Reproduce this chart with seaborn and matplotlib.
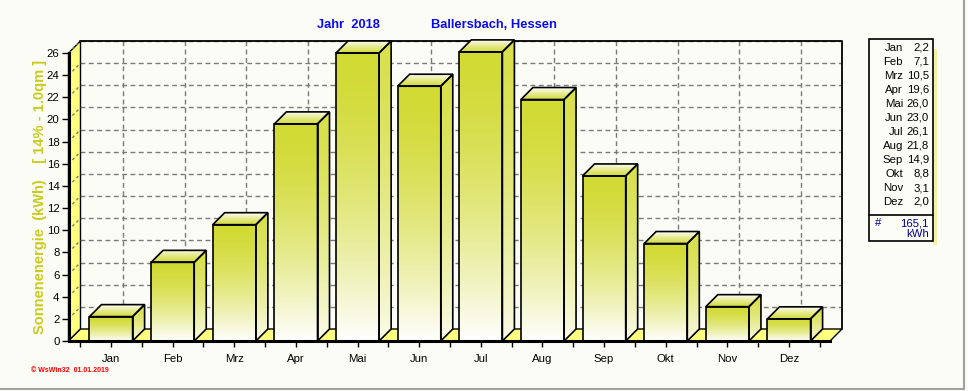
import numpy as np
import matplotlib
matplotlib.use("Agg")
import matplotlib.pyplot as plt
import seaborn as sns
from matplotlib.patches import Polygon
from matplotlib.colors import to_rgb

# ---------------- data ----------------
months = ["Jan", "Feb", "Mrz", "Apr", "Mai", "Jun", "Jul", "Aug", "Sep", "Okt", "Nov", "Dez"]
values = [2.2, 7.1, 10.5, 19.6, 26.0, 23.0, 26.1, 21.8, 14.9, 8.8, 3.1, 2.0]
y_ticks = list(range(0, 27, 2))
title_year = "Jahr  2018"
title_place = "Ballersbach, Hessen"
ylabel = "Sonnenenergie  (kWh)    [ 14% - 1.0qm ]"
total_label = "165,1"
unit_label = "kWh"
footer = "© WsWin32  01.01.2019"

# ---------------- style ----------------
sns.set_theme(style="white")
plt.rcParams["font.family"] = ["Liberation Sans", "DejaVu Sans"]

W, H = 968, 391
bg = "#fcfcf6"
bar_col = "#d2da34"
side_col = "#d8e04c"
wall_col = "#ffff80"

fig = plt.figure(figsize=(W / 100, H / 100), dpi=100)
fig.patch.set_facecolor(bg)

left_px, right_px, bottom_px, top_px = 68.5, 830, 341, 53
ax = fig.add_axes([left_px / W, (H - bottom_px) / H, (right_px - left_px) / W, (bottom_px - top_px) / H])
ax.set_facecolor("none")

sns.barplot(x=months, y=values, color=bar_col, width=0.70, saturation=1, ax=ax)
bars = list(ax.patches)

xmin, xmax = -0.69, 11.665
ymax = 26
ax.set_xlim(xmin, xmax)
ax.set_ylim(0, ymax)

pxx = (right_px - left_px) / (xmax - xmin)
pxy = (bottom_px - top_px) / ymax
DX = 12 / pxx
DY = 12 / pxy

dash = (0, (3.5, 2.5))
grid_col = "#7a7a7a"

# back wall grid
for v in y_ticks[1:]:
    ax.plot([xmin + DX, xmax + DX], [v + DY, v + DY], ls=dash, color=grid_col, lw=1, zorder=1, clip_on=False)
for i in range(len(months)):
    ax.plot([i + DX, i + DX], [DY, ymax + DY], ls=dash, color=grid_col, lw=1, zorder=1, clip_on=False)
# back wall frame
ax.plot([xmin + DX, xmax + DX, xmax + DX], [ymax + DY, ymax + DY, DY], color="black", lw=1.3, zorder=1.5,
        clip_on=False)

# left wall and floor
ax.add_patch(Polygon([(xmin, 0), (xmin + DX, DY), (xmin + DX, ymax + DY), (xmin, ymax)], closed=True,
                     facecolor=wall_col, edgecolor="black", lw=1, zorder=2, clip_on=False))
ax.add_patch(Polygon([(xmin, 0), (xmax, 0), (xmax + DX, DY), (xmin + DX, DY)], closed=True,
                     facecolor=wall_col, edgecolor="black", lw=1, zorder=2, clip_on=False))
for v in y_ticks[1:]:
    ax.plot([xmin, xmin + DX], [v, v + DY], ls=(0, (2, 2)), color=grid_col, lw=1, zorder=2.5, clip_on=False)


def grad_poly(verts, c_top, c_bot, z, power=1.0):
    poly = Polygon(verts, closed=True, facecolor="none", edgecolor="black", lw=1.2, zorder=z + 0.1,
                   clip_on=False, joinstyle="miter")
    ax.add_patch(poly)
    xs = [p[0] for p in verts]
    ys = [p[1] for p in verts]
    n = 256
    t = np.linspace(0, 1, n) ** power
    ct = np.array(to_rgb(c_top))
    cb = np.array(to_rgb(c_bot))
    arr = ct[None, :] * (1 - t[:, None]) + cb[None, :] * t[:, None]
    arr = np.repeat(arr[:, None, :], 2, axis=1)
    img = ax.imshow(arr, extent=(min(xs), max(xs), min(ys), max(ys)), origin="upper", aspect="auto",
                    zorder=z, interpolation="bilinear")
    img.set_clip_box(fig.bbox)
    img.set_clip_path(poly)
    return poly


for p in bars:
    x0, w, h = p.get_x(), p.get_width(), p.get_height()
    p.set_visible(False)
    # front face
    grad_poly([(x0, 0), (x0 + w, 0), (x0 + w, h), (x0, h)], bar_col, "#ffffff", 5, power=1.6)
    # side face
    grad_poly([(x0 + w, 0), (x0 + w + DX, DY), (x0 + w + DX, h + DY), (x0 + w, h)], side_col, "#fbfbea", 5,
              power=1.6)
    # top face
    grad_poly([(x0, h), (x0 + w, h), (x0 + w + DX, h + DY), (x0 + DX, h + DY)], "#ffffff", bar_col, 5,
              power=0.8)

ax.set_xlim(xmin, xmax)
ax.set_ylim(0, ymax)

# spines & ticks
for s in ["top", "right"]:
    ax.spines[s].set_visible(False)
for s in ["left", "bottom"]:
    ax.spines[s].set_color("black")
    ax.spines[s].set_linewidth(2.2)
    ax.spines[s].set_zorder(8)

ax.set_yticks(y_ticks)
ax.set_yticklabels([str(v) for v in y_ticks])
ax.set_xticks(range(len(months)))
ax.set_xticklabels(months)
ax.set_xticks([i + 0.5 for i in range(-1, len(months))], minor=True)
ax.tick_params(axis="y", which="major", left=True, length=5, width=1, pad=1.5, labelsize=8.2, colors="black")
ax.tick_params(axis="x", which="both", bottom=True, length=4, width=1, pad=5, labelsize=8.2, colors="black")
ax.set_xlabel("")
ax.set_ylabel("")
ax.grid(False)


def ftext(x, y, s, **kw):
    fig.text(x / W, 1 - y / H, s, **kw)


# title
ftext(317, 25, title_year, ha="left", va="center", fontsize=9.3, fontweight="bold", color="#0a0aee")
ftext(431, 25, title_place, ha="left", va="center", fontsize=9.3, fontweight="bold", color="#0a0aee")

# y label
ftext(40, 197, ylabel, ha="center", va="center", rotation=90, fontsize=10.5, fontweight="bold",
      color="#c9cc1e")

# footer
ftext(31, 371, footer, ha="left", va="center", fontsize=5, fontweight="bold", color="#ff0000")

# legend box
lx0, lx1, ly0, ly1 = 869, 933, 39, 241
fig.patches.append(plt.Rectangle((lx1 / W, 1 - (ly1 + 4) / H), 4 / W, (ly1 - ly0 - 6) / H,
                                 transform=fig.transFigure, facecolor="#f2f2a6", edgecolor="none", zorder=1))
fig.patches.append(plt.Rectangle((lx0 / W, 1 - ly1 / H), (lx1 - lx0) / W, (ly1 - ly0) / H,
                                 transform=fig.transFigure, facecolor="#fdfdf8", edgecolor="black", lw=1.2,
                                 zorder=2))
for i, (m, v) in enumerate(zip(months, values)):
    yy = 48 + i * 14.0
    ftext(903, yy, m, ha="right", va="center", fontsize=8.2, color="black", zorder=3)
    ftext(929, yy, f"{v:.1f}".replace(".", ","), ha="right", va="center", fontsize=8.2, color="black", zorder=3)
fig.lines.append(plt.Line2D([lx0 / W, lx1 / W], [1 - 215 / H, 1 - 215 / H], transform=fig.transFigure,
                            color="black", lw=1.2, zorder=3))
ftext(875, 223, "#", ha="left", va="center", fontsize=8.2, color="#00008b", zorder=3)
ftext(929, 223, total_label, ha="right", va="center", fontsize=8.2, color="#00008b", zorder=3)
ftext(929, 234, unit_label, ha="right", va="center", fontsize=8.2, color="#00008b", zorder=3)

# outer frame lines
fig.lines.append(plt.Line2D([0, 964 / W], [1 - 389 / H, 1 - 389 / H], transform=fig.transFigure,
                            color="#a0a0a0", lw=1.5))
fig.lines.append(plt.Line2D([964 / W, 964 / W], [1 - 389 / H, 1], transform=fig.transFigure,
                            color="#a0a0a0", lw=1.5))

fig.savefig("out.png", dpi=100, facecolor=bg)
